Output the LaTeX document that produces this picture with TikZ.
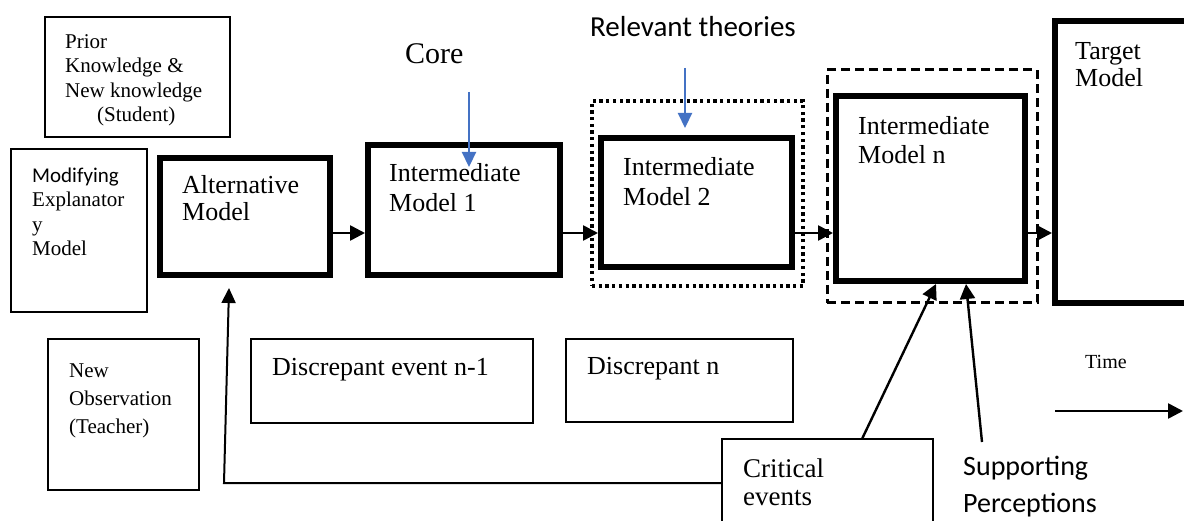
\documentclass[tikz,border=0pt]{standalone}
\usepackage{fontspec}
\setmainfont{Liberation Serif}
\setsansfont{Carlito}
\usetikzlibrary{arrows.meta}
\definecolor{arrowblue}{RGB}{68,114,196}
\tikzset{
  thinbox/.style={draw, line width=2pt, inner sep=0pt},
  thickbox/.style={draw, line width=6pt, inner sep=0pt},
  dotbox/.style={draw, line width=3.2pt, dash pattern=on 3.3pt off 3.4pt, inner sep=0pt},
  dashbox/.style={draw, line width=3pt, dash pattern=on 9pt off 5pt, inner sep=0pt},
  txt/.style={inner sep=0pt, anchor=north west, align=left},
  ltxt/.style={inner sep=0pt, anchor=base west},
  arr/.style={line width=2.6pt, -{Triangle[length=15pt,width=15pt]}},
  fb/.style={line width=2pt, -{Triangle[length=15pt,width=14pt]}},
  bluearr/.style={draw=arrowblue, line width=2.2pt, -{Triangle[length=15pt,width=14pt]}, color=arrowblue},
}
\begin{document}
\begin{tikzpicture}[x=1pt,y=-1pt]
\useasboundingbox (0,0) rectangle (1184,521);
\clip (0,0) rectangle (1184,521);
\fill[white] (0,0) rectangle (1184,521);

% side boxes
\node[thinbox, minimum width=185pt, minimum height=120pt] (prior) at (137.5,77) {};
\node[thinbox, minimum width=136pt, minimum height=163pt] (modif) at (79,230.5) {};
\node[thinbox, minimum width=151pt, minimum height=151pt] (newobs) at (123.5,414.5) {};

% main model boxes
\node[thickbox, minimum width=170pt, minimum height=117pt] (alt) at (245,216.5) {};
\node[thickbox, minimum width=192pt, minimum height=130pt] (im1) at (464,210) {};
\node[dotbox, minimum width=211pt, minimum height=185pt] (dotted) at (697.5,193.5) {};
\node[thickbox, minimum width=191pt, minimum height=129pt] (im2) at (696.5,202.5) {};
\node[dashbox, minimum width=210pt, minimum height=233pt] (dashed) at (932,186.5) {};
\node[thickbox, minimum width=189pt, minimum height=185pt] (imn) at (930.5,188.5) {};
\node[thickbox, minimum width=145pt, minimum height=282pt] (target) at (1127.5,162) {};

% event boxes
\node[thinbox, minimum width=282pt, minimum height=84pt] (disc1) at (392,381) {};
\node[thinbox, minimum width=227pt, minimum height=83pt] (discn) at (679.5,380.5) {};
\node[thinbox, minimum width=211pt, minimum height=121pt] (crit) at (827.5,499.5) {};

% texts
\node[txt, font=\fontsize{21}{24.5}\selectfont] (priorT) at (65,30.9)
  {\strut Prior\\\strut Knowledge \&\\\strut New knowledge\\\strut\hspace*{32pt}(Student)};
\node[txt, font=\fontsize{21}{24.5}\selectfont] (modifT) at (32,164.9)
  {\strut{\sffamily Modifying}\\\strut Explanator\\\strut y\\\strut Model};
\node[txt, font=\fontsize{21}{28}\selectfont] (newobsT) at (69,357.4)
  {\strut New\\\strut Observation\\\strut (Teacher)};
\node[txt, font=\fontsize{26}{27}\selectfont] (altT) at (182,174.1)
  {\strut Alternative\\\strut Model};
\node[txt, font=\fontsize{26}{30}\selectfont] (im1T) at (389,160)
  {\strut Intermediate\\\strut Model 1};
\node[txt, font=\fontsize{26}{30}\selectfont] (im2T) at (623,154)
  {\strut Intermediate\\\strut Model 2};
\node[txt, font=\fontsize{26}{29}\selectfont] (imnT) at (858,113.7)
  {\strut Intermediate\\\strut Model n};
\node[txt, font=\fontsize{26}{27}\selectfont] (targetT) at (1075,40.1)
  {\strut Target\\\strut Model};
\node[txt, font=\fontsize{27}{28}\selectfont] (critT) at (743,457.4)
  {\strut Critical\\\strut events};
\node[txt, font=\fontsize{28}{37}\sffamily\selectfont] (suppT) at (963,449.1)
  {\strut Supporting\\\strut Perceptions};

\node[ltxt, font=\fontsize{30}{34}\selectfont] (coreT) at (405,64) {Core};
\node[ltxt, font=\fontsize{29}{34}\sffamily\selectfont] (relT) at (590,37) {Relevant theories};
\node[ltxt, font=\fontsize{26}{30}\selectfont] (disc1T) at (272,376) {Discrepant event n-1};
\node[ltxt, font=\fontsize{26}{30}\selectfont] (discnT) at (587,375) {Discrepant n};
\node[ltxt, font=\fontsize{20}{24}\selectfont] (timeT) at (1085,369) {Time};

% connectors
\coordinate (row) at (0,233);
\draw[arr] (alt.east |- row) -- (im1.west |- row);
\draw[arr] (im1.east |- row) -- (im2.west |- row);
\draw[arr] (im2.east |- row) -- (imn.west |- row);
\draw[arr] (imn.east |- row) -- (target.west |- row);

\coordinate (coreS) at (469,92);
\coordinate (coreE) at (469,167);
\draw[bluearr] (coreS) -- (coreE);
\coordinate (relS) at (685,68);
\coordinate (relE) at (685,128);
\draw[bluearr] (relS) -- (relE);

\coordinate (critS) at (862,439);
\coordinate (critE) at (936,284);
\draw[arr, line width=2.4pt] (critS) -- (critE);
\coordinate (suppS) at (982,442);
\coordinate (suppE) at (966,284);
\draw[arr, line width=2.4pt] (suppS) -- (suppE);

\coordinate (fbrow) at (0,483);
\coordinate (fbcorner) at (224,483);
\coordinate (fbE) at (229,288);
\draw[fb] (crit.west |- fbrow) -- (fbcorner) -- (fbE);

\coordinate (timeS) at (1055,411);
\coordinate (timeE) at (1183,411);
\draw[arr] (timeS) -- (timeE);
\end{tikzpicture}
\end{document}
